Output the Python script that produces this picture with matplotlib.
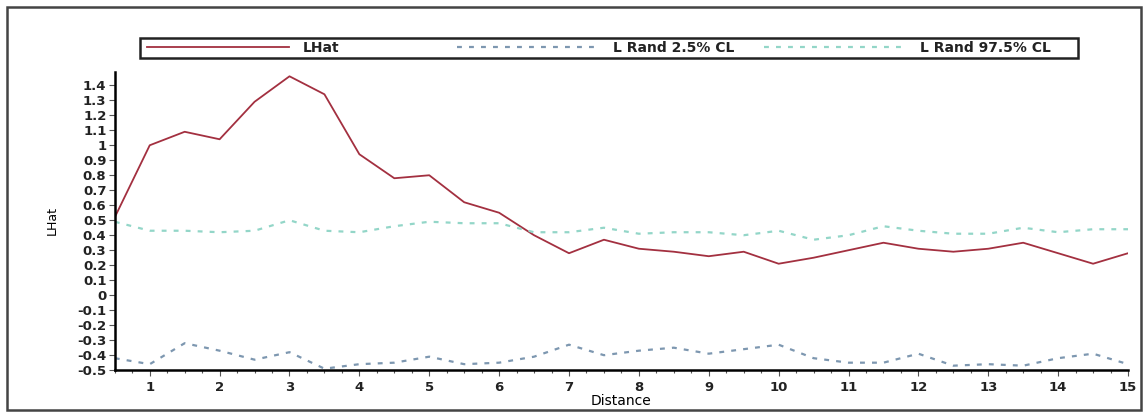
import matplotlib
matplotlib.use('Agg')
import matplotlib.pyplot as plt
import matplotlib.ticker as ticker
from matplotlib.patches import Rectangle
import numpy as np

plt.rcParams['font.family'] = 'DejaVu Sans'
plt.rcParams['axes.unicode_minus'] = False

# distance values (every 0.5)
distance = [0.5, 1, 1.5, 2, 2.5, 3, 3.5, 4, 4.5, 5, 5.5, 6, 6.5, 7, 7.5,
            8, 8.5, 9, 9.5, 10, 10.5, 11, 11.5, 12, 12.5, 13, 13.5, 14, 14.5, 15]

lhat = [0.52, 1.00, 1.09, 1.04, 1.29, 1.46, 1.34, 0.94, 0.78, 0.80,
        0.62, 0.55, 0.40, 0.28, 0.37, 0.31, 0.29, 0.26, 0.29, 0.21,
        0.25, 0.30, 0.35, 0.31, 0.29, 0.31, 0.35, 0.28, 0.21, 0.28]

rand_lo = [-0.42, -0.46, -0.32, -0.37, -0.43, -0.38, -0.49, -0.46, -0.45, -0.41,
           -0.46, -0.45, -0.41, -0.33, -0.40, -0.37, -0.35, -0.39, -0.36, -0.33,
           -0.42, -0.45, -0.45, -0.39, -0.47, -0.46, -0.47, -0.42, -0.39, -0.46]

rand_hi = [0.49, 0.43, 0.43, 0.42, 0.43, 0.50, 0.43, 0.42, 0.46, 0.49,
           0.48, 0.48, 0.42, 0.42, 0.45, 0.41, 0.42, 0.42, 0.40, 0.43,
           0.37, 0.40, 0.46, 0.43, 0.41, 0.41, 0.45, 0.42, 0.44, 0.44]

labels = ['LHat', 'L Rand 2.5% CL', 'L Rand 97.5% CL']
colors = ['#a33040', '#7d97b0', '#93d6c8']

fig = plt.figure(figsize=(11.48, 4.15), dpi=100)
W, H = 1148, 415
ax = fig.add_axes([0.100, 0.108, 0.8826, 0.719])

dots = (0, (2.2, 3.2))
l1, = ax.plot(distance, lhat, color=colors[0], lw=1.3)
l2, = ax.plot(distance, rand_lo, color=colors[1], lw=1.6, ls=dots)
l3, = ax.plot(distance, rand_hi, color=colors[2], lw=1.6, ls=dots)

ax.set_xlim(0.5, 15)
ax.set_ylim(-0.5, 1.49)
ax.set_xticks(np.arange(1, 16))
ax.xaxis.set_minor_locator(ticker.MultipleLocator(0.25))
ax.set_yticks(np.round(np.arange(-0.5, 1.41, 0.1), 1))
ax.yaxis.set_major_formatter(ticker.FuncFormatter(lambda v, p: f'{round(v, 1) + 0:g}'))

for s in ['top', 'right']:
    ax.spines[s].set_visible(False)
for s in ['left', 'bottom']:
    ax.spines[s].set_linewidth(1.8)

ax.tick_params(axis='both', which='major', labelsize=9.5, length=4, width=0.8, color='#555555')
ax.tick_params(axis='y', which='major', pad=2)
ax.tick_params(axis='x', which='minor', length=2.5, width=0.8, color='#555555')
for lab in ax.get_xticklabels() + ax.get_yticklabels():
    lab.set_fontweight('bold')
    lab.set_color('#222222')

ax.set_xlabel('Distance', fontsize=10, labelpad=0)
ax.set_ylabel('LHat', fontsize=9, labelpad=13)

# legend frame and three entries at fixed positions
fig.patches.append(Rectangle((140 / W, 1 - 58 / H), (1078 - 140) / W, 20 / H,
                             transform=fig.transFigure, fill=False,
                             edgecolor='#222222', lw=1.8))
for line, lab, x0 in zip([l1, l2, l3], labels, [147, 457, 764]):
    leg = fig.legend([line], [lab], loc='center left',
                     bbox_to_anchor=(x0 / W, 1 - 48 / H),
                     fontsize=10, handlelength=10.2, handletextpad=1.0,
                     borderpad=0, borderaxespad=0, frameon=False)
    for t in leg.get_texts():
        t.set_fontweight('bold')
        t.set_color('#222222')

# outer border around whole chart
fig.patches.append(Rectangle((7 / W, 5 / H), 1134 / W, 403 / H,
                             transform=fig.transFigure, fill=False,
                             edgecolor='#444444', lw=1.8))

fig.savefig('out.png', dpi=100, facecolor='white')
